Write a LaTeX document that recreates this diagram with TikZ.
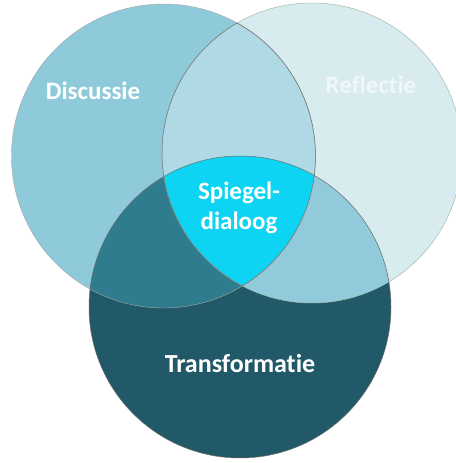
\documentclass[tikz,border=0pt]{standalone}
\usepackage{fontspec}
\setmainfont{Carlito}[Ligatures={NoCommon}]
\begin{document}
\begin{tikzpicture}[x=1pt,y=-1pt,
  lbl/.style={font=\fontsize{25}{29}\selectfont\bfseries, text=white, align=center, inner sep=0pt},
  edge/.style={draw=black!55, line width=0.5pt}]
\useasboundingbox (0,0) rectangle (455,463);
\def\cA{(163.5,156) circle (152)}
\def\cB{(312,153) circle (150)}
\def\cC{(240,307) circle (151)}
% base circles
\fill[fill={rgb,255:red,216;green,235;blue,239}] \cB;
\fill[fill={rgb,255:red,143;green,202;blue,218}] \cA;
\fill[fill={rgb,255:red,33;green,89;blue,104}] \cC;
% overlaps
\begin{scope}\clip \cA; \fill[fill={rgb,255:red,174;green,217;blue,229}] \cB; \end{scope}
\begin{scope}\clip \cA; \fill[fill={rgb,255:red,46;green,124;blue,142}] \cC; \end{scope}
\begin{scope}\clip \cB; \fill[fill={rgb,255:red,145;green,203;blue,219}] \cC; \end{scope}
\begin{scope}\clip \cA; \clip \cB; \fill[fill={rgb,255:red,12;green,212;blue,242}] \cC; \end{scope}
% outlines
\draw[draw={rgb,255:red,160;green,190;blue,175}, line width=0.5pt] \cB;
\draw[draw=black!35, line width=0.4pt] \cA;
\draw[edge] \cC;
\begin{scope}\clip \cA; \draw[edge] \cB; \end{scope}
\begin{scope}\clip \cB; \draw[edge] \cA; \end{scope}
\node[lbl] (disc) at (93,91) {Discussie};
\node[lbl, text={rgb,255:red,240;green,247;blue,249}] (refl) at (371,85) {Reflectie};
\node[lbl, font=\fontsize{25}{30}\selectfont\bfseries] (spie) at (239,208) {Spiegel-\\dialoog};
\node[lbl, font=\fontsize{26}{30}\selectfont\bfseries] (trans) at (240,363) {Transformatie};
\end{tikzpicture}
\end{document}
